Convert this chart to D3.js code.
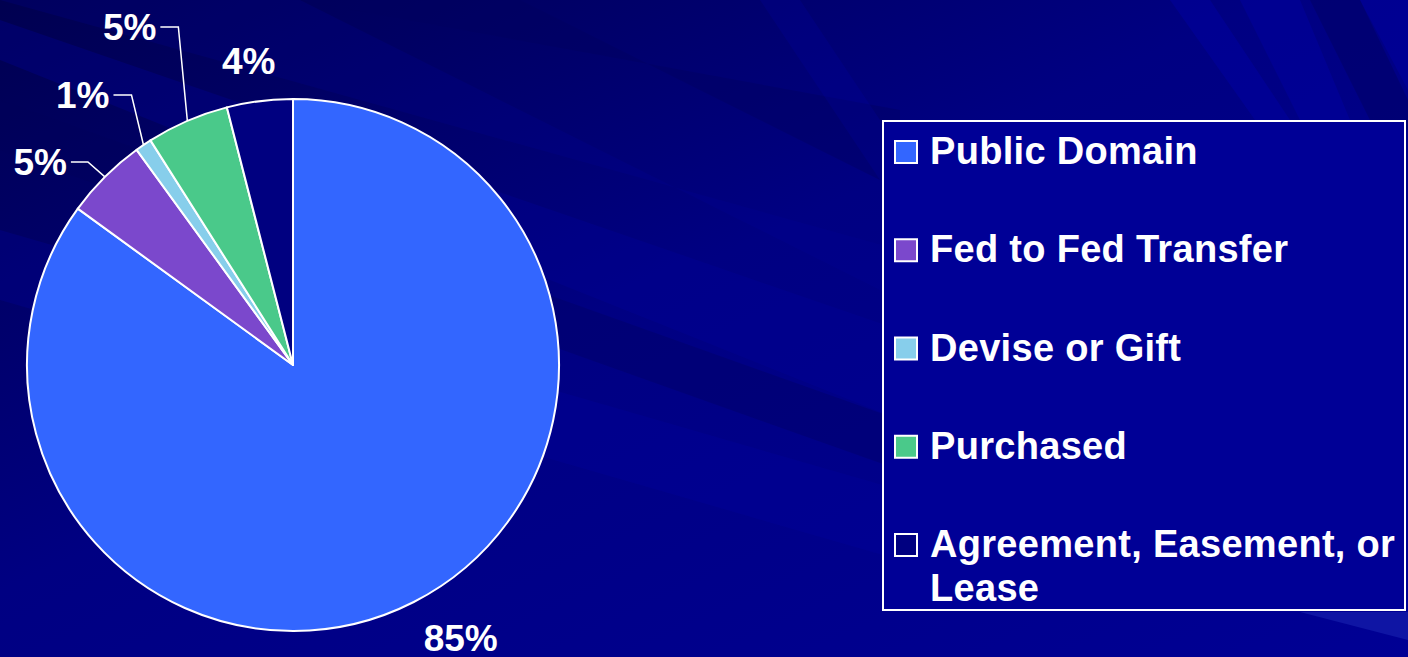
<!DOCTYPE html>
<html>
<head>
<meta charset="utf-8">
<script src="https://cdn.jsdelivr.net/npm/d3@7"></script>
<style>
    html, body { margin: 0; padding: 0; background: #000088; overflow: hidden; }
    #chart { width: 1408px; height: 657px; }
</style>
</head>
<body>
<div id="chart"></div>
<script>
// Land acquisition pie chart

const categories = ['Public Domain', 'Fed to Fed Transfer', 'Devise or Gift', 'Purchased', 'Agreement, Easement, or Lease'];
const shares = [85, 5, 1, 5, 4];
const labels = ['85%', '5%', '1%', '5%', '4%'];
const colors = ['#3366ff', '#7b48cc', '#87ceeb', '#4ac98a', '#000080'];

// label placement relative to the slice's outer edge point (elbow = leader bend, null = no leader)
const labelLayout = [
    { elbow: null, text: [47, 36], anchor: 'middle' },
    { elbow: [-17, -15], text: [-38, -15], anchor: 'end' },
    { elbow: [-12, -50], text: [-34, -50], anchor: 'end' },
    { elbow: [-9, -94], text: [-31, -94], anchor: 'end' },
    { elbow: null, text: [-11, -40], anchor: 'middle' }
];

function drawChart() {
    const container = d3.select('#chart');
    container.html('');

    const width = 1408;
    const height = 657;

    const svg = container.append('svg')
        .attr('width', width)
        .attr('height', height);

    const defs = svg.append('defs');
    const bgGrad = defs.append('linearGradient')
        .attr('id', 'bg-grad')
        .attr('x1', '0').attr('y1', '0')
        .attr('x2', '1').attr('y2', '1');
    bgGrad.append('stop').attr('offset', '0%').attr('stop-color', '#000050');
    bgGrad.append('stop').attr('offset', '45%').attr('stop-color', '#000082');
    bgGrad.append('stop').attr('offset', '100%').attr('stop-color', '#000094');

    svg.append('rect')
        .attr('width', width)
        .attr('height', height)
        .attr('fill', 'url(#bg-grad)');

    // diagonal streaks of the slide template
    const streaks = svg.append('g').attr('class', 'streaks');
    const bands = [
        { pts: [[0, 20], [0, 60], [900, 420], [900, 330]], fill: '#00009c', op: 0.3 },
        { pts: [[0, 100], [0, 150], [900, 470], [900, 420]], fill: '#00005a', op: 0.3 },
        { pts: [[0, 230], [0, 300], [900, 560], [900, 490]], fill: '#0000a4', op: 0.25 },
        { pts: [[300, 0], [520, 0], [900, 190], [900, 110]], fill: '#000060', op: 0.4 },
        { pts: [[0, 0], [300, 0], [900, 300], [900, 250]], fill: '#00009c', op: 0.2 },
        { pts: [[1170, 0], [1210, 0], [1290, 120], [1255, 120]], fill: '#0000b0', op: 0.35 },
        { pts: [[1240, 0], [1300, 0], [1350, 120], [1300, 120]], fill: '#0000a8', op: 0.4 },
        { pts: [[1360, 0], [1408, 0], [1408, 90]], fill: '#0000a8', op: 0.4 },
        { pts: [[1310, 0], [1360, 0], [1408, 100], [1408, 130], [1370, 120]], fill: '#000060', op: 0.45 },
        { pts: [[760, 0], [800, 0], [1000, 300], [960, 300]], fill: '#0000a8', op: 0.2 },
        { pts: [[1300, 612], [1408, 612], [1408, 657], [1408, 640]], fill: '#3344cc', op: 0.3 }
    ];
    streaks.selectAll('polygon')
        .data(bands)
        .enter()
        .append('polygon')
        .attr('points', d => d.pts.map(p => p.join(',')).join(' '))
        .attr('fill', d => d.fill)
        .attr('opacity', d => d.op);

    const data = categories.map((c, i) => ({ name: c, value: shares[i], label: labels[i], color: colors[i], layout: labelLayout[i] }));

    const cx = 293;
    const cy = 365;
    const radius = 266;

    const pie = d3.pie()
        .sort(null)
        .value(d => d.value);

    const arc = d3.arc()
        .innerRadius(0)
        .outerRadius(radius);

    const arcs = pie(data);

    const pieGroup = svg.append('g')
        .attr('transform', `translate(${cx},${cy})`);

    pieGroup.selectAll('path.slice')
        .data(arcs)
        .enter()
        .append('path')
        .attr('class', 'slice')
        .attr('d', arc)
        .attr('fill', d => d.data.color)
        .attr('stroke', '#ffffff')
        .attr('stroke-width', 2)
        .attr('stroke-linejoin', 'round');

    // edge point of a slice at its mid angle
    const edgePoint = d => {
        const a = (d.startAngle + d.endAngle) / 2;
        return [radius * Math.sin(a), -radius * Math.cos(a)];
    };

    const labelGroup = pieGroup.append('g').attr('class', 'labels');

    labelGroup.selectAll('polyline')
        .data(arcs.filter(d => d.data.layout.elbow))
        .enter()
        .append('polyline')
        .attr('points', d => {
            const p = edgePoint(d);
            const e = d.data.layout.elbow;
            const t = d.data.layout.text;
            return [p, [p[0] + e[0], p[1] + e[1]], [p[0] + t[0] + 4, p[1] + t[1]]]
                .map(q => q.join(',')).join(' ');
        })
        .attr('fill', 'none')
        .attr('stroke', '#ffffff')
        .attr('stroke-width', 1.5);

    labelGroup.selectAll('text')
        .data(arcs)
        .enter()
        .append('text')
        .attr('x', d => edgePoint(d)[0] + d.data.layout.text[0])
        .attr('y', d => edgePoint(d)[1] + d.data.layout.text[1])
        .attr('dy', '0.36em')
        .attr('text-anchor', d => d.data.layout.anchor)
        .attr('fill', '#ffffff')
        .attr('font-family', 'Liberation Sans, Arial, sans-serif')
        .attr('font-weight', '700')
        .attr('font-size', '37px')
        .text(d => d.data.label);

    // Legend
    const legend = svg.append('g').attr('class', 'legend');

    legend.append('rect')
        .attr('x', 883)
        .attr('y', 121)
        .attr('width', 522)
        .attr('height', 489)
        .attr('fill', '#000096')
        .attr('stroke', '#ffffff')
        .attr('stroke-width', 2);

    const rowY = d3.scalePoint()
        .domain(categories)
        .range([152, 545]);

    const items = legend.selectAll('g.item')
        .data(data)
        .enter()
        .append('g')
        .attr('class', 'item')
        .attr('transform', d => `translate(895,${rowY(d.name)})`);

    items.append('rect')
        .attr('x', 0)
        .attr('y', -11)
        .attr('width', 22)
        .attr('height', 22)
        .attr('fill', d => d.color)
        .attr('stroke', '#ffffff')
        .attr('stroke-width', 2);

    items.append('text')
        .attr('x', 35)
        .attr('y', 12)
        .attr('fill', '#ffffff')
        .attr('font-family', 'Liberation Sans, Arial, sans-serif')
        .attr('font-weight', '700')
        .attr('font-size', '38px')
        .attr('letter-spacing', '0.3px')
        .each(function (d) {
            const t = d3.select(this);
            const parts = d.name === 'Agreement, Easement, or Lease'
                ? ['Agreement, Easement, or', 'Lease'] : [d.name];
            parts.forEach((p, i) => {
                t.append('tspan')
                    .attr('x', 35)
                    .attr('dy', i === 0 ? 0 : 44)
                    .text(p);
            });
        });
}

drawChart();
</script>
</body>
</html>
